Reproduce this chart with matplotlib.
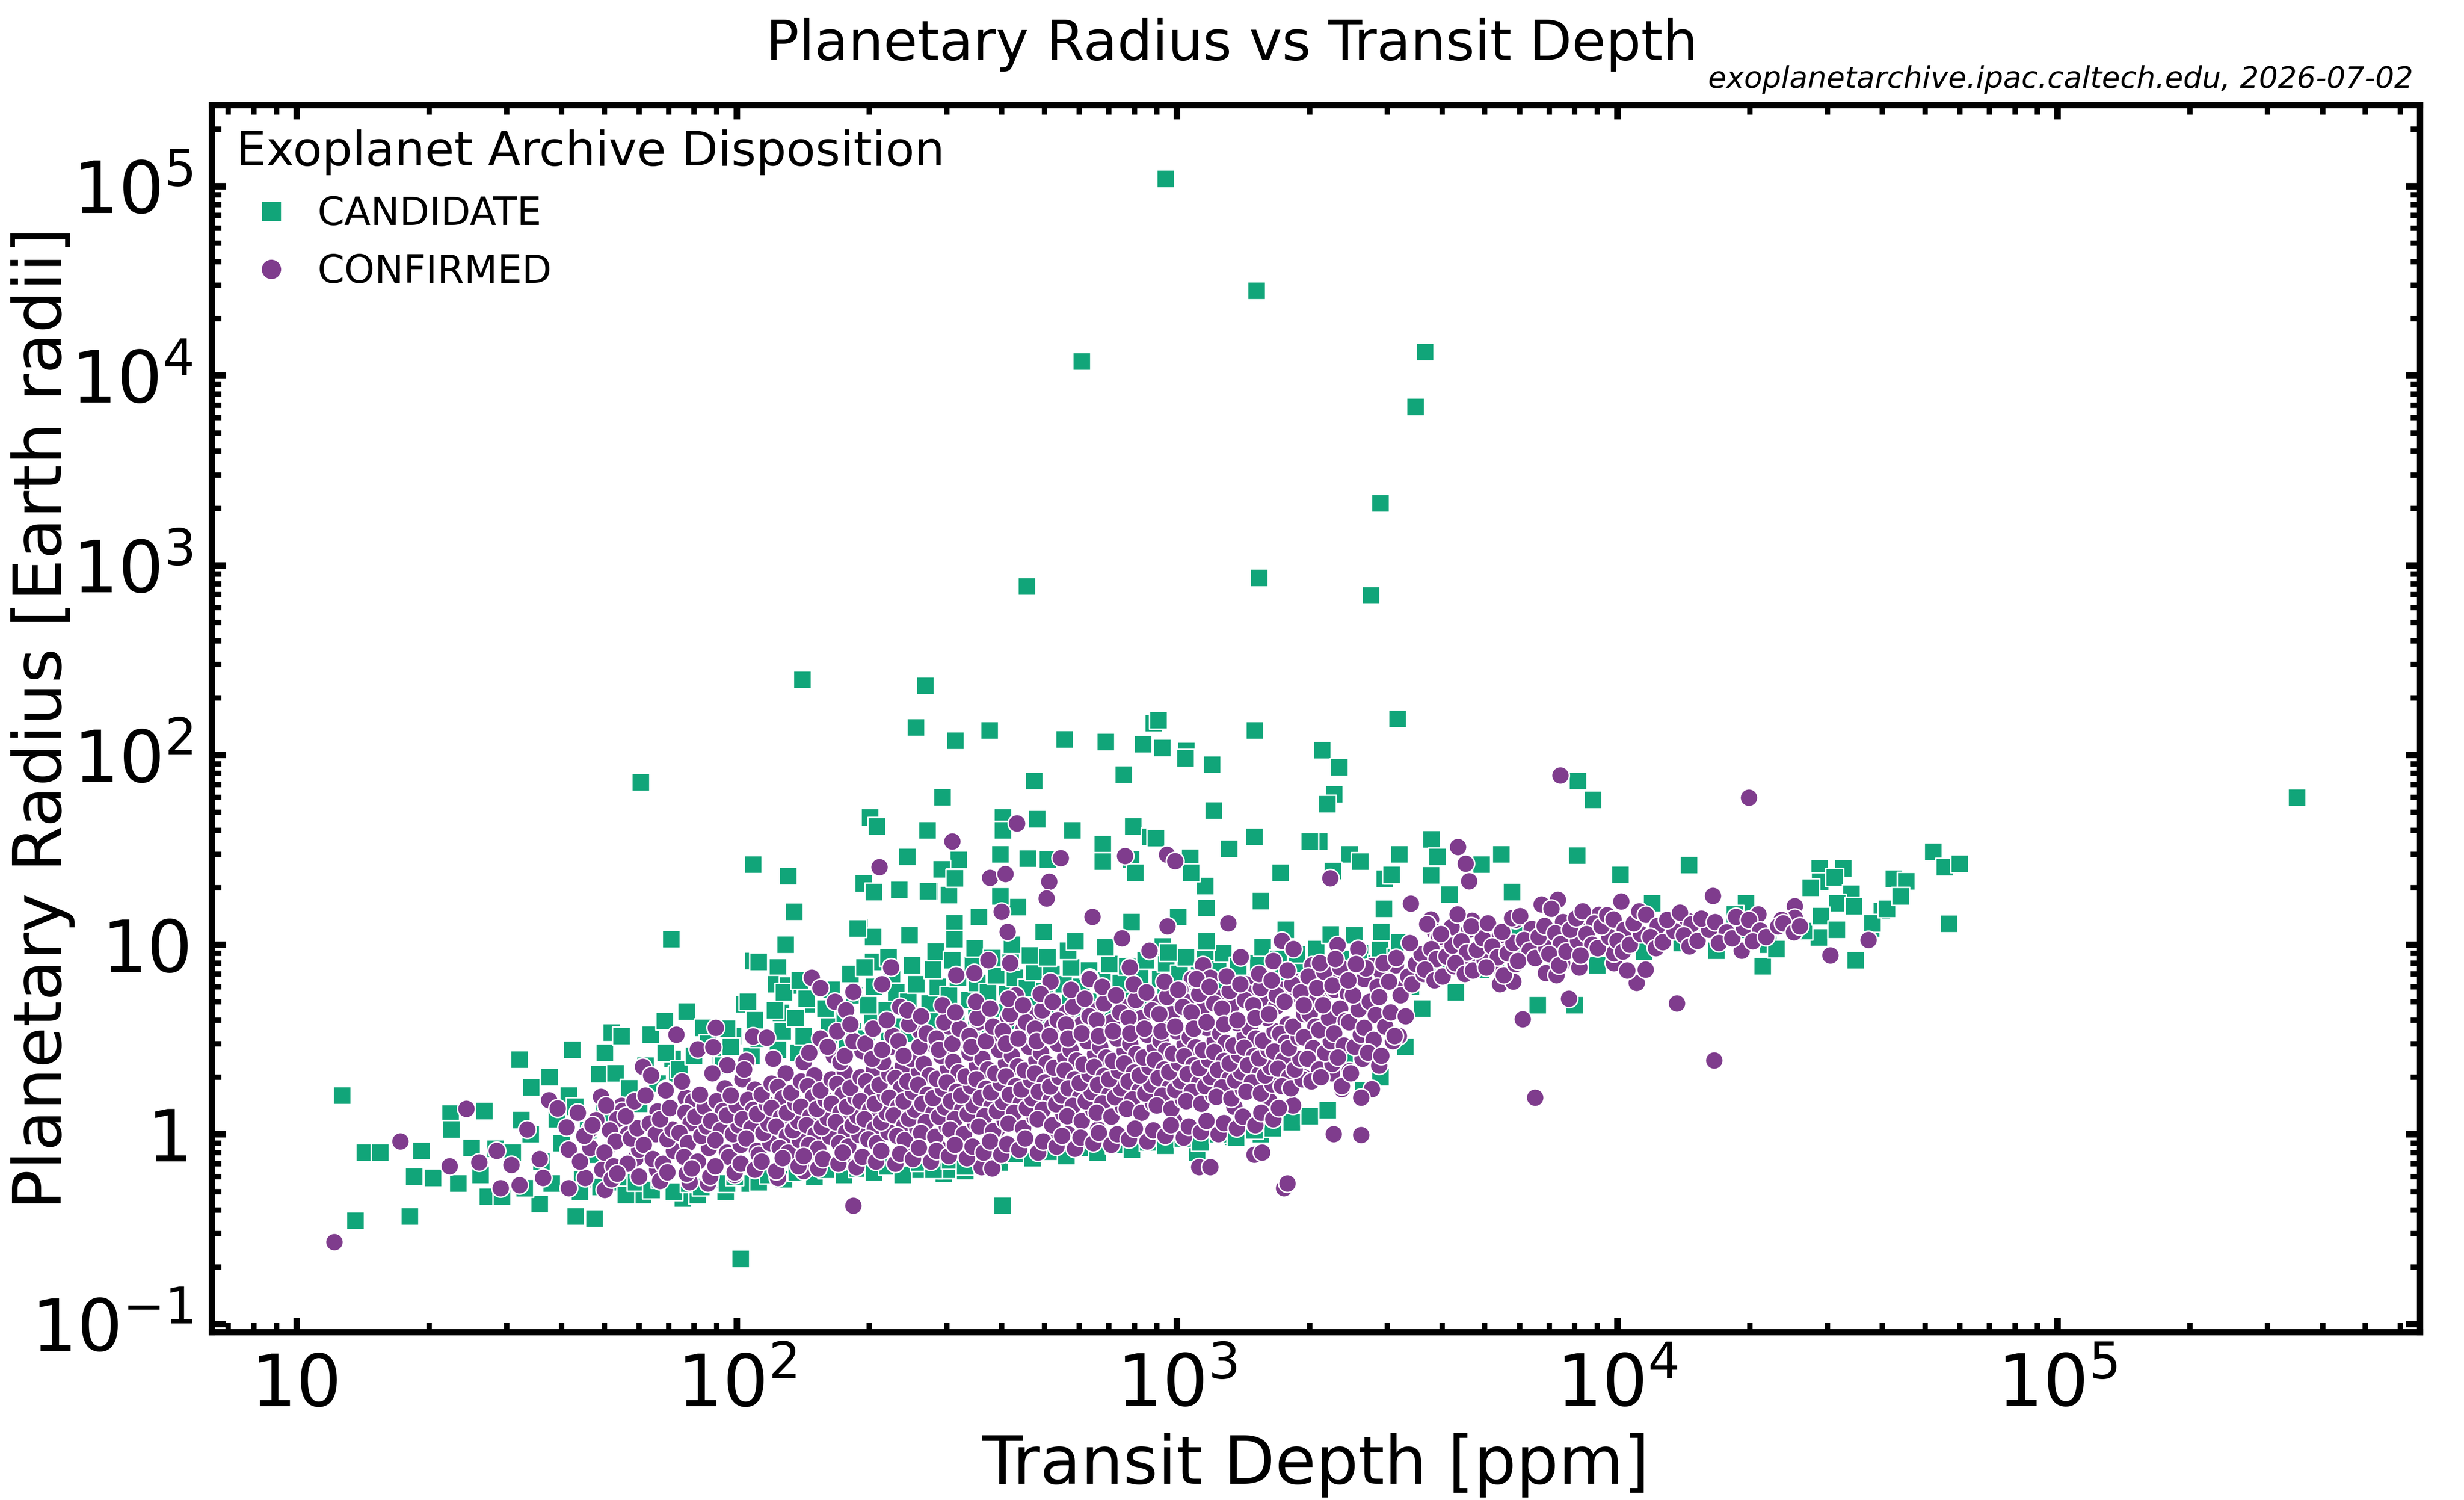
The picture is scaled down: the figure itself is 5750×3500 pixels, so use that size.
import matplotlib
matplotlib.use("Agg")
import matplotlib.pyplot as plt
from matplotlib.lines import Line2D
from matplotlib.ticker import LogLocator, FuncFormatter, NullFormatter
import numpy as np

# ---------------------------------------------------------------
# Values (transit depth in ppm, radius in Earth radii)
# ---------------------------------------------------------------

# CONFIRMED - sparse points at the edges of the main cloud
conf_edge_depth = [
    12.2, 17.2, 24.3, 22.3, 26.0, 28.5, 29.1, 32.1, 30.8, 33.4,
    35.7, 36.3, 37.5, 39.2, 41.1, 41.5, 41.5, 45.2, 50.2, 46.4,
    49.1, 48.0, 54.7, 55.0, 50.5, 49.5, 56.6, 58.9, 61.2, 63.9,
    68.9, 72.9, 76.6, 81.5, 88.5, 89.7, 65.9, 78.2, 86.0, 99.0,
    95.2, 105, 109, 117, 124, 142, 148, 155, 167, 177,
    184, 184, 211, 214, 224, 235, 309, 315, 346, 373,
    376, 408, 433, 400, 412, 418, 430, 512, 505, 544,
    516, 634, 643, 750, 762, 781, 865, 952, 948, 990,
    566, 989, 1122, 845, 662, 513, 390, 347, 365, 360,
    286, 263, 248, 151, 174, 1307, 952, 2227, 3400, 380,
    1750, 1780, 1500, 1560, 1190, 1396, 1730, 1840, 2317, 2580,
    1653, 2028, 1146, 1190, 1080, 1018, 1435, 1633, 1740, 1880,
    632, 2240, 2454, 2773, 2910, 3140, 3310,
]
conf_edge_radius = [
    0.27, 0.92, 1.36, 0.68, 0.71, 0.82, 0.52, 0.54, 0.69, 1.06,
    0.74, 0.59, 1.51, 1.37, 1.09, 0.83, 0.52, 0.59, 0.51, 1.06,
    1.58, 1.19, 1.41, 1.33, 0.82, 0.65, 1.00, 0.75, 2.27, 2.04,
    1.73, 3.36, 1.56, 2.81, 2.88, 3.65, 0.65, 0.56, 0.55, 0.61,
    2.32, 2.44, 3.29, 3.24, 0.59, 0.64, 6.7, 5.9, 5.0, 4.5,
    5.65, 0.42, 25.7, 6.2, 7.6, 4.7, 35, 6.9, 7.1, 8.3,
    22.5, 23.6, 43.5, 14.9, 11.7, 8.0, 5.4, 21.5, 17.5, 28.6,
    6.4, 6.7, 14.0, 10.8, 29.3, 7.6, 9.3, 12.4, 29.8, 27.6,
    1.00, 1.08, 0.67, 1.00, 1.06, 0.94, 1.06, 0.81, 0.78, 0.67,
    0.86, 0.81, 0.81, 0.80, 0.72, 13.0, 12.5, 22.4, 16.5, 0.66,
    0.52, 0.55, 0.78, 0.80, 0.67, 8.6, 10.5, 9.5, 9.95, 9.5,
    8.2, 7.8, 7.8, 6.7, 6.6, 5.8, 6.2, 6.4, 5.8, 6.4,
    6.6, 5.7, 7.35, 7.7, 7.2, 7.8, 6.0,
]

# CONFIRMED - right-hand side and outliers
conf_far_depth = [
    7430, 19900, 4350, 4530, 4610, 16500, 37200, 30500, 13650, 16600,
    6500, 6100, 7760, 11070, 19150, 2370, 2770, 2620, 1833, 1620,
    1348, 985, 2270, 2620, 2830, 3190, 2250, 1940,
    25300, 25300, 23600, 20900, 16200, 14450, 12600, 10200, 9080, 7330,
    6730, 5870, 7020, 8590, 10250, 5050, 5400, 6590, 4200, 3775,
    3850, 4000, 4680, 4710, 5200, 6880, 5420, 5800, 7500, 8200,
    9820, 9820, 10540, 7280, 11600,
]
conf_far_radius = [
    78, 59.5, 32.7, 26.7, 21.6, 18.1, 10.6, 8.8, 4.9, 2.45,
    1.56, 4.05, 5.2, 6.3, 9.3, 1.73, 1.73, 1.56, 1.42, 1.5,
    1.4, 1.18, 1.0, 0.99, 2.7, 3.3, 2.1, 2.0,
    16.0, 13.9, 13.5, 14.5, 12.9, 13.4, 12.2, 16.9, 14.4, 17.3,
    16.3, 13.5, 10.9, 12.0, 10.4, 10.4, 10.8, 10.0, 12.4, 13.6,
    11.7, 10.8, 13.4, 8.2, 7.8, 7.1, 6.2, 6.4, 8.0, 7.6,
    8.0, 9.0, 7.3, 6.9, 7.4,
]

# CONFIRMED - dense core of the cloud (45 to 3300 ppm)
conf_core_depth = [
    44, 46.5, 45, 47, 43.5,
    50.5, 53.5, 51.5, 53, 50, 52.5,
    56.5, 60, 57.5, 59.5, 56, 58.5,
    62, 66, 63.5, 65.5, 61.5, 64.5,
    68, 72, 69.5, 71.5, 67, 70.5, 69,
    75, 79.5, 76.5, 78.5, 74, 77.5, 76,
    81.5, 86.5, 83, 85.5, 80.5, 84.5, 82.5,
    88, 94, 90, 93, 87.5, 92, 89.5, 95,
    96, 102, 98, 101, 95, 100, 97, 103,
    104, 110, 106, 109, 103, 108, 105, 111,
    112, 119, 115, 118, 111, 117, 114, 120,
    121, 129, 124, 127, 120, 126, 123, 130, 125,
    131, 139, 134, 138, 130, 136, 133, 140,
    142, 150, 145, 149, 140, 147, 144, 151, 146,
    153, 163, 156, 161, 152, 159, 155, 164,
    166, 176, 169, 174, 164, 172, 168, 177, 171,
    179, 190, 183, 188, 178, 186, 181, 191,
    193, 205, 197, 203, 191, 201, 195, 206, 199,
    208, 221, 213, 219, 206, 217, 211, 222, 215,
    224, 238, 229, 236, 222, 233, 227, 240, 231,
    241, 257, 246, 254, 239, 251, 244, 259, 249,
    261, 277, 266, 274, 258, 271, 264, 280, 269, 262,
    282, 300, 288, 297, 279, 294, 285, 302, 291,
    304, 322, 310, 319, 300, 316, 307, 325, 313, 305,
    328, 348, 335, 345, 324, 341, 331, 351, 338, 329,
    354, 376, 361, 372, 350, 368, 358, 379, 365, 355,
    382, 406, 390, 402, 378, 398, 386, 409, 394, 383,
    413, 439, 422, 435, 409, 430, 417, 442, 426, 414,
    447, 475, 456, 470, 443, 466, 451, 479, 461, 448,
    481, 511, 491, 506, 476, 501, 486, 516, 496, 482,
    520, 552, 531, 547, 515, 541, 525, 557, 536, 521,
    562, 596, 573, 591, 556, 585, 567, 602, 579, 563,
    607, 645, 620, 639, 601, 632, 613, 651, 626, 608,
    656, 696, 669, 690, 649, 683, 662, 703, 676, 657,
    709, 753, 724, 746, 702, 738, 716, 760, 731, 710,
    767, 815, 783, 807, 759, 799, 775, 823, 791, 768,
    830, 882, 847, 873, 822, 865, 839, 890, 856, 831,
    898, 954, 917, 945, 889, 935, 907, 963, 926, 899,
    970, 1030, 990, 1020, 960, 1010, 980, 1040, 1000, 972,
    1048, 1112, 1069, 1102, 1037, 1091, 1058, 1123, 1080, 1049,
    1135, 1205, 1158, 1193, 1123, 1182, 1146, 1217, 1170, 1136,
    1227, 1303, 1252, 1290, 1214, 1278, 1240, 1316, 1265, 1228,
    1329, 1411, 1356, 1397, 1315, 1384, 1343, 1425, 1370, 1330,
    1436, 1524, 1465, 1510, 1421, 1495, 1450, 1539, 1480, 1437,
    1552, 1648, 1584, 1632, 1536, 1616, 1568, 1664, 1600, 1553,
    1678, 1782, 1713, 1765, 1661, 1747, 1695, 1799, 1730,
    1814, 1926, 1851, 1907, 1795, 1889, 1833, 1945, 1870,
    1959, 2081, 2000, 2060, 1939, 2040, 1980, 2101, 2020,
    2124, 2256, 2168, 2234, 2102, 2212, 2146, 2278,
    2299, 2441, 2346, 2417, 2275, 2394, 2323, 2465, 2370,
    2483, 2637, 2534, 2611, 2458, 2586, 2509, 2662,
    2687, 2853, 2742, 2825, 2659, 2798, 2715, 2881,
    2910, 3090, 2970, 3060, 2880, 3030, 2940,
    3150, 3350, 3220, 3310, 3120,
]
conf_core_radius = [
    0.72, 0.85, 0.98, 1.12, 1.3,
    1.42, 1.2, 1.05, 0.92, 0.8, 0.68,
    0.7, 0.83, 0.95, 1.08, 1.25, 1.5,
    1.6, 1.32, 1.14, 1.0, 0.88, 0.74,
    0.7, 0.82, 0.94, 1.06, 1.2, 1.38, 1.7,
    1.9, 1.5, 1.3, 1.15, 1.02, 0.9, 0.76,
    0.72, 0.85, 0.98, 1.1, 1.24, 1.4, 1.62,
    2.1, 1.75, 1.5, 1.33, 1.18, 1.05, 0.93, 0.8,
    0.76, 0.88, 1.0, 1.12, 1.26, 1.42, 1.6, 1.95,
    2.2, 1.72, 1.52, 1.35, 1.2, 1.08, 0.95, 0.82,
    0.78, 0.9, 1.02, 1.14, 1.28, 1.44, 1.62, 1.85,
    2.5, 2.1, 1.78, 1.55, 1.38, 1.23, 1.1, 0.98, 0.85,
    0.8, 0.93, 1.05, 1.17, 1.3, 1.46, 1.65, 1.9,
    2.4, 2.05, 1.8, 1.58, 1.4, 1.25, 1.12, 1.0, 0.88,
    0.84, 0.97, 1.09, 1.22, 1.36, 1.52, 1.7, 1.95,
    2.6, 2.12, 1.84, 1.62, 1.45, 1.3, 1.16, 1.03, 0.9,
    0.86, 0.99, 1.12, 1.25, 1.4, 1.56, 1.76, 2.0,
    2.75, 2.2, 1.9, 1.68, 1.5, 1.34, 1.2, 1.07, 0.94,
    0.9, 1.03, 1.16, 1.3, 1.45, 1.62, 1.82, 2.08, 2.4,
    2.9, 2.28, 1.98, 1.75, 1.56, 1.4, 1.26, 1.12, 0.98,
    0.93, 1.07, 1.21, 1.35, 1.5, 1.68, 1.9, 2.15, 2.5,
    3.5, 3.0, 2.35, 2.05, 1.82, 1.62, 1.45, 1.3, 1.16, 1.02,
    0.97, 1.1, 1.24, 1.39, 1.55, 1.74, 1.96, 2.22, 2.6,
    3.7, 3.1, 2.42, 2.12, 1.88, 1.68, 1.5, 1.35, 1.2, 1.06,
    1.0, 1.14, 1.28, 1.43, 1.6, 1.8, 2.02, 2.3, 2.7, 3.3,
    3.9, 3.2, 2.5, 2.2, 1.95, 1.74, 1.56, 1.4, 1.25, 1.1,
    1.04, 1.18, 1.33, 1.49, 1.66, 1.86, 2.1, 2.38, 2.8, 3.4,
    4.1, 3.3, 2.6, 2.28, 2.02, 1.8, 1.62, 1.46, 1.3, 1.14,
    1.08, 1.23, 1.38, 1.54, 1.72, 1.93, 2.18, 2.46, 2.9, 3.6,
    4.3, 3.4, 2.7, 2.36, 2.1, 1.88, 1.68, 1.51, 1.35, 1.2,
    1.12, 1.28, 1.44, 1.6, 1.79, 2.0, 2.25, 2.55, 3.0, 3.7,
    4.4, 3.5, 2.8, 2.45, 2.18, 1.95, 1.75, 1.57, 1.41, 1.25,
    1.18, 1.34, 1.5, 1.67, 1.86, 2.08, 2.34, 2.65, 3.1, 3.8,
    4.5, 3.6, 2.9, 2.55, 2.27, 2.03, 1.82, 1.63, 1.46, 1.3,
    1.24, 1.4, 1.57, 1.75, 1.95, 2.17, 2.44, 2.75, 3.2, 3.9,
    4.7, 3.8, 3.0, 2.65, 2.36, 2.12, 1.9, 1.7, 1.53, 1.36,
    1.3, 1.46, 1.64, 1.83, 2.04, 2.27, 2.54, 2.88, 3.35, 4.1,
    4.9, 3.9, 3.12, 2.76, 2.46, 2.2, 1.98, 1.78, 1.6, 1.42,
    1.36, 1.53, 1.71, 1.91, 2.13, 2.38, 2.66, 3.0, 3.5, 4.3,
    5.0, 4.0, 3.25, 2.88, 2.58, 2.32, 2.08, 1.87, 1.68, 1.5,
    1.45, 1.62, 1.8, 2.0, 2.23, 2.48, 2.78, 3.12, 3.65, 4.5,
    5.3, 4.2, 3.4, 3.03, 2.72, 2.44, 2.19, 1.97, 1.77, 1.58,
    1.54, 1.72, 1.92, 2.13, 2.37, 2.64, 2.95, 3.3, 3.85, 4.8,
    5.6, 4.4, 3.6, 3.2, 2.87, 2.58, 2.32, 2.09, 1.88, 1.68,
    1.64, 1.83, 2.04, 2.27, 2.52, 2.8, 3.12, 3.5, 4.1, 5.1,
    4.7, 3.8, 3.38, 3.03, 2.73, 2.46, 2.22, 2.0, 1.8,
    1.75, 1.95, 2.2, 2.5, 2.85, 3.25, 3.7, 4.3, 5.5,
    6.5, 5.2, 4.3, 3.7, 3.25, 2.85, 2.5, 2.2, 1.9,
    2.0, 2.35, 2.7, 3.1, 3.55, 4.1, 4.8, 5.8,
    7.0, 5.5, 4.6, 3.95, 3.4, 2.95, 2.55, 2.15, 1.8,
    2.1, 2.5, 2.9, 3.35, 3.9, 4.55, 5.4, 6.6,
    7.5, 6.0, 5.0, 4.25, 3.65, 3.15, 2.7, 2.3,
    2.6, 3.1, 3.7, 4.4, 5.3, 6.4, 8.0,
    8.5, 6.8, 5.4, 4.2, 3.3,
]

# CONFIRMED - upper layer of the core (150 to 2600 ppm)
conf_upper_depth = [
    146, 155, 161, 169, 172, 176, 184, 181, 196, 204,
    203, 214, 226, 219, 233, 246, 239, 244, 260, 270,
    262, 284, 296, 288, 293, 309, 321, 314, 338, 352,
    341, 349, 368, 382, 376, 402, 418, 409, 414, 436,
    454, 447, 476, 494, 480, 490, 514, 536, 522, 559,
    581, 566, 575, 608, 632, 617, 657, 683, 664, 676,
    716, 744, 727, 775, 805, 783, 797, 843, 877, 852,
    912, 948, 921, 936, 990, 1030, 1005, 1078, 1122, 1090,
    1108, 1166, 1214, 1185, 1264, 1316, 1280, 1297, 1372, 1428,
    1391, 1490, 1550, 1505, 1535, 1617, 1683, 1640, 1754, 1826,
    1780, 1911, 1989, 1940, 2078, 2162, 2110, 2254, 2346, 2290,
    2450, 2550,
]
conf_upper_radius = [
    2.7, 3.2, 2.9, 3.5, 2.4, 2.6, 3.1, 3.8, 3.0, 3.6,
    2.5, 2.8, 3.3, 4.0, 3.1, 3.8, 2.6, 4.5, 2.9, 3.4,
    4.2, 3.2, 3.9, 2.8, 4.8, 3.0, 3.6, 4.4, 3.3, 4.1,
    2.9, 5.0, 3.1, 3.7, 4.6, 3.5, 4.3, 3.0, 5.2, 3.2,
    3.9, 4.8, 3.6, 4.5, 3.1, 5.5, 3.3, 4.0, 5.0, 3.8,
    4.7, 3.2, 5.8, 3.4, 4.2, 5.2, 4.0, 4.9, 3.3, 6.0,
    3.5, 4.4, 5.4, 4.1, 5.1, 3.4, 6.2, 3.6, 4.5, 5.6,
    4.3, 5.3, 3.5, 6.4, 3.7, 4.7, 5.8, 4.4, 5.5, 3.6,
    6.6, 3.9, 4.9, 6.0, 4.6, 5.7, 3.8, 6.8, 4.0, 5.1,
    6.2, 4.8, 5.9, 4.1, 7.0, 4.3, 5.4, 6.5, 5.0, 6.2,
    7.3, 5.6, 6.8, 4.8, 5.9, 7.2, 8.0, 6.1, 7.6, 8.4,
    6.5, 7.9,
]

# CONFIRMED - lower layer of the core (50 to 1700 ppm)
conf_lower_depth = [
    52, 53.5, 60, 67, 69.5, 77, 79, 87, 89.5, 99,
    102, 110, 114, 123, 127, 138, 142, 153, 157, 170,
    174, 187, 193, 207, 213, 229, 235, 251, 259, 276,
    284, 303, 313, 333, 343, 364, 376, 399, 411, 438,
    452, 483, 497, 532, 548, 586, 604, 645, 665, 709,
    731, 778, 802, 857, 883, 941, 969, 1035, 1065, 1133,
    1167, 1241, 1279, 1369, 1411, 1507, 1553, 1655, 1705,
]
conf_lower_radius = [
    0.58, 0.62, 0.60, 0.57, 0.63, 0.62, 0.66, 0.60, 0.68, 0.63,
    0.70, 0.65, 0.72, 0.64, 0.75, 0.68, 0.77, 0.66, 0.74, 0.70,
    0.80, 0.67, 0.76, 0.72, 0.82, 0.70, 0.79, 0.74, 0.85, 0.72,
    0.82, 0.77, 0.88, 0.75, 0.86, 0.80, 0.92, 0.78, 0.89, 0.83,
    0.95, 0.80, 0.92, 0.86, 0.98, 0.84, 0.96, 0.90, 1.02, 0.88,
    1.00, 0.94, 1.07, 0.92, 1.05, 0.98, 1.12, 0.96, 1.10, 1.03,
    1.18, 1.00, 1.15, 1.08, 1.24, 1.12, 1.30, 1.20, 1.38,
]

# CONFIRMED - upper band of giant planets (3400 to 26000 ppm)
conf_band_depth = [
    3420, 3630, 3490, 3590, 3380,
    3700, 3930, 3780, 3890, 3660, 3840,
    4010, 4260, 4090, 4220, 3970,
    4340, 4610, 4430, 4560, 4290, 4510,
    4700, 5000, 4800, 4950, 4660,
    5090, 5410, 5200, 5360, 5040,
    5530, 5870, 5640, 5810, 5470, 5760,
    6010, 6390, 6140, 6320, 5950,
    6500, 6900, 6630, 6830,
    7080, 7520, 7230, 7450, 7010, 7370,
    7660, 8140, 7820, 8060,
    8340, 8860, 8510, 8770, 8260,
    9020, 9580, 9210, 9490,
    9800, 10400, 10000, 10300,
    10670, 11330, 10890, 11220,
    11640, 12360, 11880, 12240,
    12700, 13490, 12970,
    13870, 14730, 14160, 14590,
    15230, 16170, 15540,
    16680, 17720, 17030,
    18240, 19360, 18610,
    19890, 21120, 20300,
    21800, 23200,
    23800, 25200, 26000,
]
conf_band_radius = [
    6.2, 7.0, 7.9, 8.9, 10.2,
    12.8, 11.0, 9.5, 8.4, 7.4, 6.5,
    6.8, 7.7, 8.7, 9.9, 11.4,
    14.5, 12.0, 10.4, 9.1, 8.0, 7.0,
    7.3, 8.3, 9.4, 10.8, 12.5,
    13.0, 11.2, 9.8, 8.6, 7.6,
    6.9, 7.9, 9.0, 10.2, 11.7, 13.8,
    14.2, 12.1, 10.6, 9.3, 8.2,
    8.5, 9.6, 11.0, 12.6,
    15.5, 13.2, 11.5, 10.1, 8.9, 7.8,
    9.2, 10.5, 12.0, 13.8,
    15.0, 13.0, 11.4, 10.0, 8.8,
    9.6, 11.0, 12.5, 14.3,
    13.6, 12.0, 10.5, 9.2,
    10.0, 11.4, 13.0, 15.0,
    14.4, 12.6, 11.0, 9.6,
    10.3, 11.8, 13.5,
    14.8, 12.8, 11.2, 9.8,
    10.5, 12.0, 13.7,
    13.2, 11.6, 10.2,
    10.8, 12.3, 14.0,
    13.5, 11.9, 10.4,
    11.0, 12.5,
    13.0, 11.6, 12.5,
]

# CANDIDATE - small depths and lower fringe of the cloud
cand_low_depth = [
    12.7, 13.6, 14.3, 15.5, 18.1, 19.2, 18.5, 20.4, 22.4, 22.5,
    23.3, 25.0, 26.7, 27.2, 26.2, 28.3, 32.1, 34.1, 37.6, 32.4,
    35.7, 29.3, 42.3, 41.5, 43.1, 47.5, 44.5, 52.0, 50.1, 48.7,
    54.7, 53.0, 53.8, 61.2, 63.7, 68.7, 71.4, 73.3, 75.4, 76.9,
    84.0, 81.5, 94.4, 102, 104, 107, 124, 109, 112, 123,
    131, 126, 144, 173, 190, 204, 204, 662, 401, 255,
    295, 166, 1550, 1090, 1110, 1340, 300, 330,
    33, 38, 44, 49, 56, 59, 64, 67, 72, 78,
    83, 88, 95, 99, 112, 118, 128, 137, 150, 160,
    175, 188, 205, 220, 238, 260, 280, 305, 330, 360,
    395, 430, 470, 515, 560, 610, 660, 720, 790, 860,
    940, 1030, 1130, 1240, 1360, 1500, 1650, 1820, 2000, 2200,
    31, 34, 36, 39, 40, 43, 46, 47, 50, 55,
    57, 60, 62, 66, 69, 74, 80, 86, 92, 98,
    2400, 2900, 3300, 2650,
]
cand_low_radius = [
    1.6, 0.35, 0.80, 0.80, 0.37, 0.82, 0.60, 0.59, 1.29, 1.06,
    0.55, 0.85, 1.33, 0.47, 0.61, 0.84, 2.48, 1.77, 2.0, 1.19,
    0.43, 0.47, 2.79, 1.6, 0.37, 0.36, 0.58, 3.44, 2.7, 2.08,
    3.3, 2.1, 0.56, 0.48, 3.36, 3.96, 2.5, 2.07, 0.46, 4.43,
    3.65, 0.48, 0.50, 0.22, 4.85, 0.55, 7.6, 8.2, 8.1, 6.2,
    6.1, 4.36, 4.85, 3.1, 12.4, 11.0, 8.1, 0.84, 0.42, 0.65,
    0.62, 0.65, 1.0, 1.0, 0.8, 0.97, 0.65, 0.64,
    0.52, 0.55, 0.50, 0.53, 0.48, 0.56, 0.51, 0.58, 0.50, 0.55,
    0.53, 0.58, 0.55, 0.60, 0.56, 0.61, 0.58, 0.63, 0.60, 0.65,
    0.61, 0.66, 0.63, 0.68, 0.61, 0.71, 0.65, 0.73, 0.68, 0.76,
    0.71, 0.79, 0.75, 0.81, 0.77, 0.85, 0.80, 0.88, 0.83, 0.91,
    0.87, 0.95, 0.91, 1.00, 0.96, 1.05, 1.08, 1.16, 1.25, 1.34,
    0.80, 1.00, 0.72, 1.20, 0.90, 1.40, 1.05, 0.78, 1.30, 1.15,
    1.75, 1.45, 2.30, 1.85, 2.70, 2.20, 2.60, 3.00, 2.40, 3.30,
    2.4, 2.0, 2.9, 1.7,
]

# CANDIDATE - upper fringe just above the confirmed cloud
cand_upper_depth = [
    93, 97, 95, 108, 112, 110, 106, 124, 127, 122,
    128, 138, 142, 136, 144, 139, 157, 162, 159, 164,
    178, 183, 176, 185, 181, 197, 203, 199, 205, 195,
    222, 228, 219, 230, 225, 221, 247, 253, 245, 256,
    250, 277, 284, 274, 286, 279, 283, 306, 315, 303,
    318, 309, 341, 350, 338, 352, 344, 347, 376, 385,
    372, 388, 380, 415, 424, 411, 428, 419, 422, 460,
    471, 456, 474, 463, 505, 516, 500, 518, 508, 558,
    572, 553, 575, 566, 612, 628, 606, 631, 682, 698,
    676, 701, 687, 752, 768, 745, 771, 830, 851, 824,
    848, 920, 942, 915, 945, 928, 1020, 1045, 1012, 1048,
    1130, 1155, 1122, 1158, 1250, 1275, 1240, 1272, 1385, 1420,
    1378, 1535, 1570, 1528, 1565, 1705, 1740, 1698, 1880, 1925,
    1872, 2080, 2125, 2070, 2310, 2350, 2560, 2600, 2840, 2890,
    3140, 3200,
]
cand_upper_radius = [
    2.3, 2.9, 3.6, 2.6, 3.2, 4.0, 5.0, 2.8, 3.5, 4.5,
    5.6, 2.7, 3.3, 4.1, 5.2, 6.5, 3.0, 3.7, 4.6, 5.8,
    2.9, 3.5, 4.3, 5.4, 7.0, 3.2, 3.9, 4.8, 6.0, 7.6,
    3.1, 3.7, 4.5, 5.6, 7.0, 8.6, 3.4, 4.1, 5.0, 6.2,
    7.8, 3.3, 4.0, 4.9, 6.0, 7.4, 9.2, 3.6, 4.4, 5.4,
    6.7, 8.3, 3.5, 4.2, 5.1, 6.3, 7.8, 9.6, 3.8, 4.6,
    5.6, 6.9, 8.5, 3.7, 4.5, 5.5, 6.7, 8.2, 10.0, 4.0,
    4.9, 5.9, 7.2, 8.8, 3.9, 4.7, 5.7, 7.0, 8.6, 4.2,
    5.1, 6.2, 7.6, 9.3, 4.1, 5.0, 6.0, 7.3, 4.4, 5.3,
    6.5, 7.9, 9.7, 4.3, 5.2, 6.3, 7.7, 4.6, 5.6, 6.8,
    8.3, 4.5, 5.4, 6.6, 8.0, 9.8, 4.8, 5.8, 7.0, 8.6,
    4.7, 5.7, 6.9, 8.4, 5.0, 6.1, 7.4, 9.0, 5.2, 6.3,
    7.7, 5.4, 6.6, 8.0, 9.7, 5.7, 6.9, 8.4, 6.0, 7.3,
    8.9, 6.4, 7.8, 9.5, 6.9, 8.4, 7.4, 9.0, 8.0, 9.6,
    8.6, 10.3,
]

# CANDIDATE - large-radius outliers
cand_high_depth = [
    942, 1517, 608, 3655, 3483, 2900, 456, 1538, 2755, 141,
    268, 3170, 255, 314, 375, 555, 689, 837, 886, 907,
    926, 1503, 2138, 1050, 60.5, 1045, 1202, 2335, 474, 757,
    293, 1211, 2275, 2196, 201, 209, 271, 402, 481, 402,
    578, 795, 869, 678, 1500, 2104, 1315, 2466, 2605, 3200,
    109, 131, 244, 319, 292, 314, 397, 458, 509, 194,
    205, 234, 274, 303, 678, 787, 804, 1079, 1079, 1159,
    1718, 2000, 2966, 3090, 2953, 1552, 1167, 135, 188, 247,
    312, 312, 354, 435, 588, 498, 788, 1005, 955, 1167,
    1767, 2234, 2525, 2912, 71, 129, 208, 272, 313, 355,
    397, 896, 1313, 1072, 1075,
]
cand_high_radius = [
    109000, 28100, 11900, 13300, 6840, 2120, 775, 860, 695, 249,
    232, 155, 140, 119, 135, 121, 117, 114, 147, 153,
    109, 135, 106, 105, 72, 96, 89, 86, 73, 79,
    60, 51, 62, 55, 47, 42, 40, 47, 46, 40,
    40, 42, 37, 34, 37, 35, 32, 30, 27.5, 30,
    26.5, 23, 29, 28, 25, 22.5, 30, 28.4, 28.2, 21,
    19, 19.5, 19.2, 18.3, 27.4, 28.2, 24, 29, 24, 20.4,
    24, 35, 22.3, 23.4, 15.5, 17, 15.6, 14.9, 12.2, 11.2,
    13, 10.7, 14, 15.8, 10.4, 11.7, 13.2, 14, 9.1, 10.4,
    12, 11.3, 11.2, 11.7, 10.7, 10, 42, 19.2, 22.4, 14,
    18, 36.6, 32, 28.8, 24,
]

# CANDIDATE - deep transits on the right
cand_right_depth = [
    8150, 8810, 350000, 3785, 3900, 5450, 8100, 2260, 3070, 3775,
    4920, 10170, 14550, 28800, 32600, 28900, 31200, 42500, 45300, 52200,
    55400, 60000, 56700, 34000, 39900, 37700, 34800, 21400, 28700, 31600,
    19600, 12000, 5760, 4160, 6590, 8000, 16800, 5200, 6000, 6800,
    7600, 8400, 9200, 10500, 11500, 12800, 14000, 15500, 17000, 18500,
    20000, 22000, 24000, 26500, 29000, 31500, 34500, 38000, 41000, 44000,
    23000, 27500, 9000, 7200, 5600, 3400, 3700, 4100, 4500, 4900,
    5300, 5900, 6400, 3600, 4300,
]
cand_right_radius = [
    72.8, 58, 59.5, 36, 29, 30, 29.5, 24.5, 23.4, 23.2,
    26.5, 23.3, 26.3, 25.2, 25.2, 21.5, 22.6, 22.3, 21.6, 30.9,
    25.7, 26.7, 12.9, 18.6, 15.1, 12.2, 8.3, 7.7, 10.9, 16.6,
    16.6, 16.6, 19, 18.4, 4.8, 4.8, 9.3, 9.5, 11.5, 9.0,
    12.5, 10.0, 14.0, 11.0, 9.2, 12.0, 10.2, 13.0, 11.5, 14.5,
    12.0, 10.0, 13.5, 11.8, 14.2, 12.0, 16.0, 13.0, 15.5, 18.0,
    9.5, 20.0, 7.8, 7.4, 6.9, 6.0, 7.2, 8.0, 9.0, 7.4,
    8.6, 9.8, 10.5, 4.6, 5.6,
]

GREEN = "#11A579"
PURPLE = "#7F3C8D"

cand_x = cand_low_depth + cand_upper_depth + cand_high_depth + cand_right_depth
cand_y = cand_low_radius + cand_upper_radius + cand_high_radius + cand_right_radius
conf_x = (conf_edge_depth + conf_far_depth + conf_core_depth
          + conf_upper_depth + conf_lower_depth + conf_band_depth)
conf_y = (conf_edge_radius + conf_far_radius + conf_core_radius
          + conf_upper_radius + conf_lower_radius + conf_band_radius)
assert len(cand_x) == len(cand_y), (len(cand_x), len(cand_y))
assert len(conf_x) == len(conf_y), (len(conf_x), len(conf_y))

# ---------------------------------------------------------------
fig = plt.figure(figsize=(11.5, 7), dpi=500)
ax = fig.add_axes([0.086, 0.112, 0.896, 0.818])

ax.scatter(cand_x, cand_y, marker="s", s=36, color=GREEN,
           edgecolors="white", linewidths=0.5, zorder=2)
ax.scatter(conf_x, conf_y, marker="o", s=36, color=PURPLE,
           edgecolors="white", linewidths=0.5, zorder=3)

ax.set_xscale("log")
ax.set_yscale("log")
ax.set_xlim(6.43, 6.65e5)
ax.set_ylim(0.0906, 2.67e5)


def log_label(v, pos):
    n = int(round(np.log10(v)))
    if n == 0:
        return "1"
    if n == 1:
        return "10"
    return r"$10^{%d}$" % n


for axis in (ax.xaxis, ax.yaxis):
    axis.set_major_locator(LogLocator(base=10, numticks=30))
    axis.set_minor_locator(LogLocator(base=10, subs=np.arange(2, 10), numticks=100))
    axis.set_major_formatter(FuncFormatter(log_label))
    axis.set_minor_formatter(NullFormatter())

ax.tick_params(which="both", direction="in", top=True, right=True)
ax.tick_params(which="major", length=4.7, width=2.2, labelsize=24, pad=6.5)
ax.tick_params(which="minor", length=3.2, width=1.8)
for sp in ax.spines.values():
    sp.set_linewidth(2.1)

ax.set_xlabel("Transit Depth [ppm]", fontsize=22.4)
ax.set_ylabel("Planetary Radius [Earth radii]", fontsize=22.4)
ax.yaxis.set_label_coords(-0.062, 0.5)

fig.text(0.5, 0.96, "Planetary Radius vs Transit Depth", ha="center",
         va="baseline", fontsize=18.6)
ax.text(0.997, 1.014, "exoplanetarchive.ipac.caltech.edu, 2026-07-02",
        transform=ax.transAxes, ha="right", va="baseline", fontsize=10,
        style="italic")

handles = [
    Line2D([], [], ls="", marker="s", markersize=7, color=GREEN,
           markeredgecolor="white", markeredgewidth=0.5),
    Line2D([], [], ls="", marker="o", markersize=7, color=PURPLE,
           markeredgecolor="white", markeredgewidth=0.5),
]
ax.legend(handles, ["CANDIDATE", "CONFIRMED"],
          title="Exoplanet Archive Disposition", loc="upper left",
          frameon=False, fontsize=13, title_fontsize=16, alignment="left",
          handlelength=1.8, handletextpad=0.3, borderaxespad=0.35,
          borderpad=0.28, labelspacing=0.52)

fig.savefig("out.png", dpi=500)
